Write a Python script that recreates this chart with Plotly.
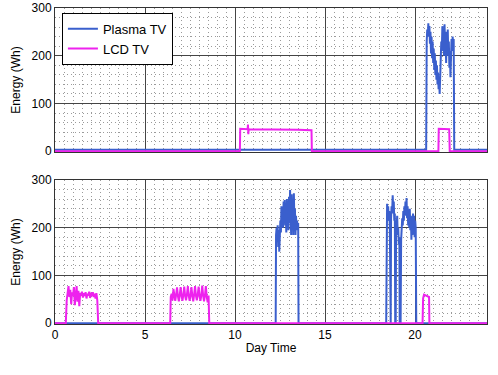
import plotly.graph_objects as go
from plotly.subplots import make_subplots

# ---- top panel ----
top_plasma_t = [0, 20.62, 20.65, 20.68, 20.71, 20.74, 20.77, 20.80, 20.83, 20.86, 20.89,
                20.92, 20.95, 20.98, 21.01, 21.04, 21.07, 21.10, 21.13, 21.16, 21.19,
                21.22, 21.25, 21.28, 21.31, 21.34, 21.37, 21.40, 21.43, 21.46, 21.49,
                21.52, 21.55, 21.58, 21.61, 21.64, 21.67, 21.70, 21.73, 21.76, 21.79,
                21.82, 21.85, 21.88, 21.91, 21.94, 21.97, 22.00, 22.03, 22.06, 22.09,
                22.12, 22.15, 22.18, 24]
top_plasma_v = [3, 3, 230, 255, 240, 268, 245, 262, 225, 250, 205,
                240, 195, 230, 185, 215, 170, 205, 160, 190, 150,
                180, 140, 165, 130, 150, 120, 160, 195, 230, 210,
                262, 220, 250, 200, 266, 230, 245, 185, 250, 210,
                255, 200, 230, 175, 210, 155, 200, 235, 210, 240,
                225, 235, 3, 3]

top_lcd_t = [0, 10.27, 10.29, 10.5, 10.70, 10.72, 10.74, 10.76, 10.78, 11.5, 12.5,
             13.5, 14.25, 14.27, 21.30, 21.32, 21.90, 21.93, 24]
top_lcd_v = [0, 0, 47, 47, 46, 56, 36, 47, 46, 46, 45,
             45, 44, 0, 0, 47, 46, 0, 0]

# ---- bottom panel ----
bot_plasma_t = [0, 12.26, 12.28, 12.31, 12.34, 12.37, 12.40, 12.43, 12.46, 12.49, 12.52,
                12.55, 12.58, 12.61, 12.64, 12.67, 12.70, 12.73, 12.76, 12.79, 12.82,
                12.85, 12.88, 12.91, 12.94, 12.97, 13.00, 13.03, 13.06, 13.09, 13.12,
                13.15, 13.18, 13.21, 13.24, 13.27, 13.30, 13.33, 13.36, 13.39, 13.42,
                13.45, 13.48, 13.51, 13.53,
                18.40, 18.42, 18.45, 18.48, 18.51, 18.54, 18.57, 18.60, 18.62, 18.65,
                18.67, 18.70, 18.73, 18.76, 18.79, 18.82, 18.85, 18.88, 18.90, 18.93,
                18.95, 18.98, 19.01, 19.04, 19.07, 19.10, 19.13, 19.15, 19.20, 19.23,
                19.26, 19.29, 19.32, 19.35, 19.38, 19.41, 19.44, 19.47, 19.50, 19.53,
                19.56, 19.59, 19.62, 19.65, 19.68, 19.71, 19.74, 19.77, 19.80, 19.83,
                19.86, 19.89, 19.92, 19.95, 19.98, 20.01, 20.04, 20.07, 24]
bot_plasma_v = [0, 0, 185, 200, 170, 205, 160, 195, 150, 200, 215,
                190, 245, 210, 230, 200, 255, 215, 258, 205, 240,
                190, 260, 215, 250, 195, 265, 210, 279, 230, 185,
                270, 200, 255, 185, 272, 210, 240, 185, 225, 195,
                215, 200, 210, 0,
                0, 200, 250, 225, 245, 215, 235, 205, 0, 0,
                220, 245, 230, 268, 240, 255, 215, 230, 0, 0,
                215, 200, 225, 185, 200, 165, 180, 0, 0, 175,
                200, 220, 205, 235, 215, 245, 225, 255, 230, 262,
                220, 245, 205, 235, 200, 240, 195, 225, 175, 215,
                185, 230, 195, 225, 180, 215, 200, 0, 0]

bot_lcd_t = [0, 0.60, 0.65, 0.70, 0.75, 0.80, 0.85, 0.90, 0.95, 1.00, 1.05,
             1.10, 1.15, 1.20, 1.25, 1.30, 1.35, 1.40, 1.45, 1.50, 1.55,
             1.60, 1.65, 1.70, 1.75, 1.80, 1.85, 1.90, 1.95, 2.00, 2.05,
             2.10, 2.15, 2.20, 2.25, 2.30, 2.35, 2.40,
             6.40, 6.43, 6.48, 6.53, 6.58, 6.63, 6.68, 6.73, 6.78, 6.83,
             6.88, 6.93, 6.98, 7.03, 7.08, 7.13, 7.18, 7.23, 7.28, 7.33,
             7.38, 7.43, 7.48, 7.53, 7.58, 7.63, 7.68, 7.73, 7.78, 7.83,
             7.88, 7.93, 7.98, 8.03, 8.08, 8.13, 8.18, 8.23, 8.28, 8.33,
             8.38, 8.43, 8.48, 8.53, 8.57,
             20.42, 20.45, 20.50, 20.60, 20.70, 20.78, 20.80, 24]
bot_lcd_v = [0, 0, 48, 62, 78, 55, 70, 40, 65, 57, 76,
             38, 62, 78, 45, 68, 36, 64, 58, 66, 54,
             63, 57, 65, 52, 62, 58, 66, 53, 64, 57,
             65, 55, 62, 52, 63, 48, 0,
             0, 55, 62, 48, 72, 58, 47, 60, 75, 57,
             46, 59, 76, 58, 47, 60, 77, 57, 48, 60,
             78, 58, 47, 59, 76, 57, 46, 60, 78, 58,
             48, 60, 77, 57, 47, 59, 79, 58, 46, 58,
             78, 56, 44, 58, 0,
             0, 52, 60, 58, 57, 55, 0, 0]

BLUE = "#3a5fcd"
MAGENTA = "#ee22ee"
FONT = "Liberation Sans, Arial, sans-serif"

fig = make_subplots(rows=2, cols=1, vertical_spacing=28 / 316)

# --- top: plasma then LCD on top ---
fig.add_trace(go.Scatter(x=top_plasma_t, y=top_plasma_v, mode="lines", name="Plasma TV",
                         line=dict(color=BLUE, width=2)), row=1, col=1)
fig.add_trace(go.Scatter(x=top_lcd_t, y=top_lcd_v, mode="lines", name="LCD TV",
                         line=dict(color=MAGENTA, width=2)), row=1, col=1)

# --- bottom ---
fig.add_trace(go.Scatter(x=bot_plasma_t, y=bot_plasma_v, mode="lines", showlegend=False,
                         line=dict(color=BLUE, width=2)), row=2, col=1)
fig.add_trace(go.Scatter(x=bot_lcd_t, y=bot_lcd_v, mode="lines", showlegend=False,
                         line=dict(color=MAGENTA, width=2)), row=2, col=1)

axis_common = dict(
    showgrid=True, gridcolor="#444444", gridwidth=1,
    showline=True, linecolor="#333333", linewidth=1, mirror=True,
    zeroline=False, ticks="", automargin=False,
    tickfont=dict(family=FONT, size=12, color="black"),
)
minor_grid = dict(showgrid=True, gridcolor="#9a9a9a", griddash="1px,3px", gridwidth=1)

for r in (1, 2):
    fig.update_xaxes(range=[0, 24], tick0=0, dtick=5,
                     minor=dict(dtick=0.5, **minor_grid),
                     showticklabels=(r == 2), row=r, col=1, **axis_common)
    fig.update_yaxes(range=[-1.5, 300], tick0=0, dtick=100,
                     minor=dict(dtick=20, **minor_grid),
                     title=dict(text="Energy (Wh)", font=dict(family=FONT, size=12, color="black"),
                                standoff=8),
                     row=r, col=1, **axis_common)

fig.update_xaxes(title=dict(text="Day Time", font=dict(family=FONT, size=12, color="black"),
                            standoff=2), row=2, col=1)

fig.update_layout(
    width=498, height=375,
    margin=dict(l=55, r=11, t=8, b=51),
    paper_bgcolor="white", plot_bgcolor="white",
    font=dict(family=FONT, size=12, color="black"),
    legend=dict(x=0.016, y=0.985, xanchor="left", yanchor="top",
                bgcolor="white", bordercolor="black", borderwidth=1,
                font=dict(family=FONT, size=13, color="black"),
                tracegroupgap=0, itemwidth=30),
    showlegend=True,
)

# page body has a default 8px margin; drop it so the figure sits at 0,0
fig.write_html("out.html", config={"displayModeBar": False},
               post_script="document.body.style.margin='0';")
